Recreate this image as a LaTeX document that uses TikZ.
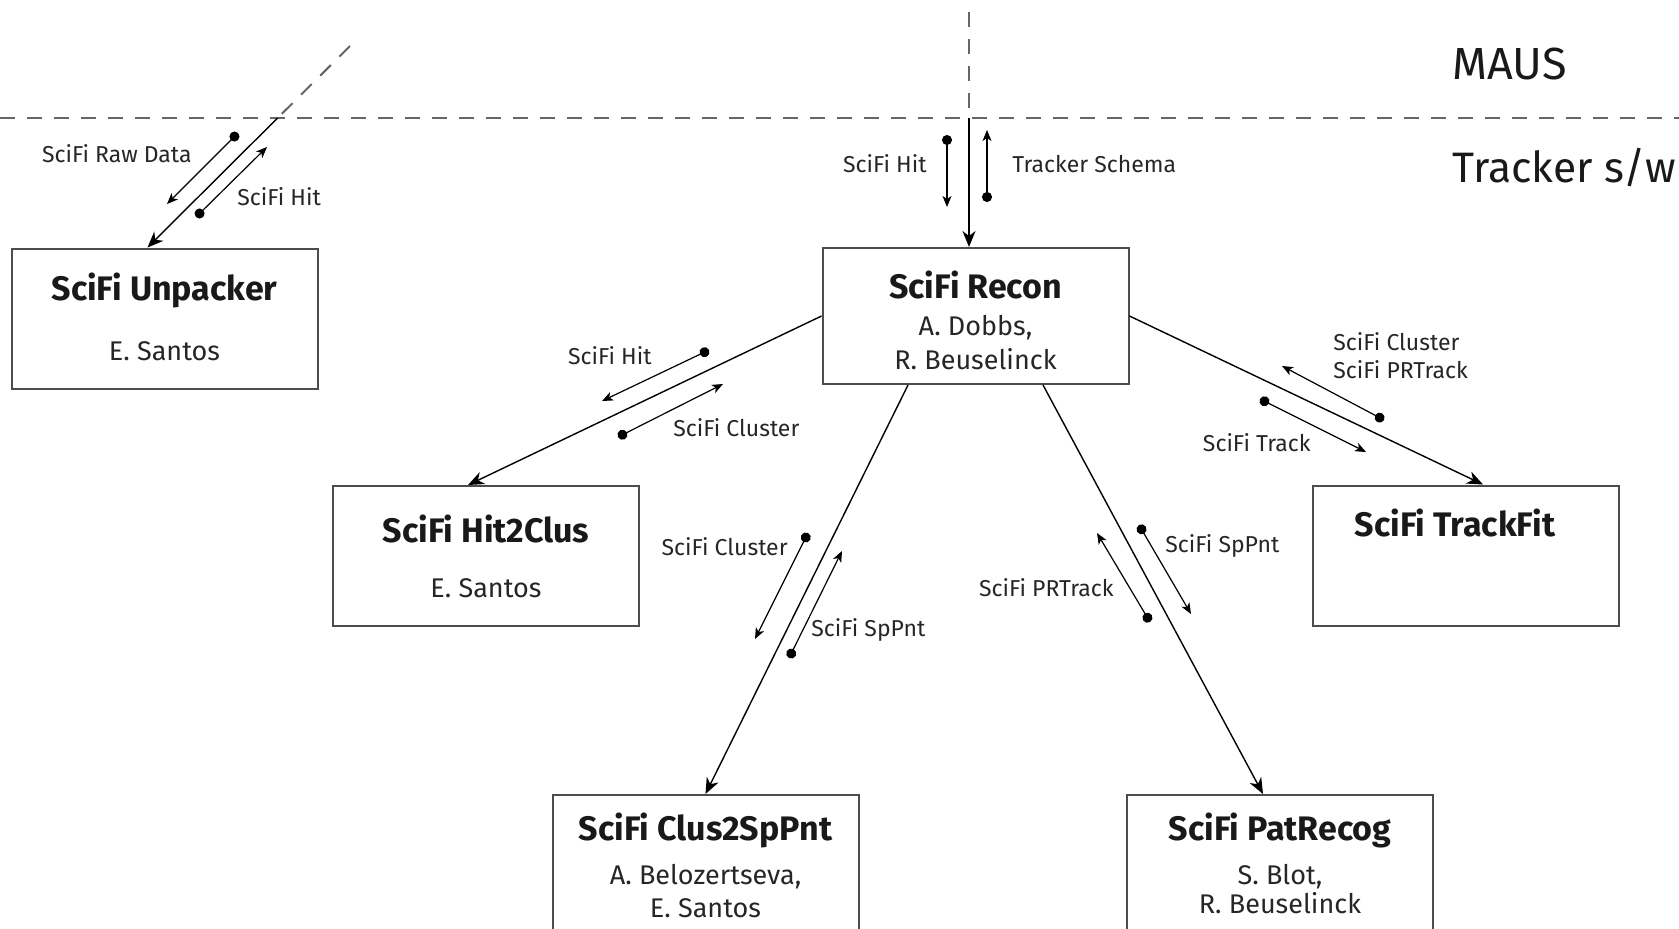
\documentclass[tikz,border=0pt]{standalone}
\usepackage{fontspec}
\setmainfont{Fira Sans}
\usetikzlibrary{arrows.meta}

\tikzset{
  module/.style={draw=black!70, line width=1pt, rectangle, minimum width=153pt, minimum height=70pt, inner sep=0pt},
  modtitle/.style={font=\fontsize{17}{20}\selectfont\bfseries, anchor=base, inner sep=0pt, text=black!90},
  modname/.style={font=\fontsize{13.5}{16}\selectfont, anchor=base, inner sep=0pt, text=black!85},
  lbl/.style={font=\fontsize{11.5}{14}\selectfont, inner sep=0pt, text=black!85},
  layertext/.style={font=\fontsize{22.5}{26}\selectfont, anchor=base west, inner sep=0pt, text=black!90},
  link/.style={line width=0.7pt, -{Stealth[length=8pt,width=6.5pt,inset=2.5pt]}},
  flow/.style={line width=0.6pt, {Circle[length=5pt]}-{Stealth[length=5.5pt,width=4.5pt,inset=1.5pt]}},
  layerline/.style={draw=black!60, line width=1pt, dash pattern=on 7.5pt off 6pt},
}

\begin{document}
\begin{tikzpicture}[x=0.5pt, y=-0.5pt]
\useasboundingbox (0,0) rectangle (1679,928);

% MAUS / tracker boundary
\coordinate (edgeL) at (0,118);
\coordinate (edgeR) at (1679,118);
\draw[layerline] (edgeL) -- (edgeR);
\node (maus) [layertext] at (1452,79) {MAUS};
\node (trksw) [layertext, font=\fontsize{21.3}{25}\selectfont] at (1452,182) {Tracker s/w};

% modules
\node (unp) [module] at (164.5,318.5) {};
\node (unpT) [modtitle] at (164.5,300) {SciFi Unpacker};
\node (unpA) [modname] at (164.5,360) {E. Santos};

\node (rec) [module, minimum height=68pt] at (975.5,316) {};
\node (recT) [modtitle] at (975.5,298) {SciFi Recon};
\node (recA) [modname] at (975.5,335) {A. Dobbs,};
\node (recB) [modname] at (975.5,369) {R. Beuselinck};

\node (h2c) [module] at (486,556) {};
\node (h2cT) [modtitle] at (486,542) {SciFi Hit2Clus};
\node (h2cA) [modname] at (486,597) {E. Santos};

\node (tf) [module] at (1466,555.5) {};
\node (tfT) [modtitle] at (1455,536) {SciFi TrackFit};

\node (c2s) [module] at (705.5,865) {};
\node (c2sT) [modtitle] at (705.5,840) {SciFi Clus2SpPnt};
\node (c2sA) [modname] at (705.5,884) {A. Belozertseva,};
\node (c2sB) [modname] at (705.5,917) {E. Santos};

\node (pr) [module] at (1280,865) {};
\node (prT) [modtitle] at (1280,840) {SciFi PatRecog};
\node (prA) [modname] at (1280,884) {S. Blot,};
\node (prB) [modname] at (1280,913) {R. Beuselinck};

% main connectors
\coordinate (inU) at (350,46);
\coordinate (cutU) at (277.6,118);
\draw[layerline] (inU) -- (cutU);
\draw[link] (cutU) -- ([xshift=-8.5pt]unp.north);

\coordinate (inR) at (969,12);
\coordinate (cutR) at (969,118);
\draw[layerline] (inR) -- (cutR);
\draw[link] (cutR) -- ([xshift=-3.25pt]rec.north);

\draw[link] (rec.west) -- ([xshift=-9pt]h2c.north);
\draw[link] ([xshift=-33.75pt]rec.south) -- (c2s.north);
\draw[link] ([xshift=33.75pt]rec.south) -- ([xshift=-8.5pt]pr.north);
\draw[link] (rec.east) -- ([xshift=8.5pt]tf.north);

% data flows
\coordinate (rawA) at (238,133);
\coordinate (rawB) at (167,204);
\draw[flow] (rawA) -- (rawB);
\node (rawL) [lbl, anchor=base east] at (192,162) {SciFi Raw Data};

\coordinate (uhitA) at (196,217);
\coordinate (uhitB) at (267,147);
\draw[flow] (uhitA) -- (uhitB);
\node (uhitL) [lbl, anchor=base west] at (237,205) {SciFi Hit};

\coordinate (rhitA) at (947,135);
\coordinate (rhitB) at (947,207);
\draw[flow] (rhitA) -- (rhitB);
\node (rhitL) [lbl, anchor=base east] at (927,172) {SciFi Hit};

\coordinate (schA) at (987,202);
\coordinate (schB) at (987,130);
\draw[flow] (schA) -- (schB);
\node (schL) [lbl, anchor=base west] at (1012,172) {Tracker Schema};

\coordinate (hhitA) at (709,350);
\coordinate (hhitB) at (602,401);
\draw[flow] (hhitA) -- (hhitB);
\node (hhitL) [lbl, anchor=base east] at (652,364) {SciFi Hit};

\coordinate (hclA) at (618,437);
\coordinate (hclB) at (723,384);
\draw[flow] (hclA) -- (hclB);
\node (hclL) [lbl, anchor=base west] at (673,436) {SciFi Cluster};

\coordinate (cclA) at (808,533);
\coordinate (cclB) at (755,639);
\draw[flow] (cclA) -- (cclB);
\node (cclL) [lbl, anchor=base east] at (788,555) {SciFi Cluster};

\coordinate (cspA) at (789,658);
\coordinate (cspB) at (842,551);
\draw[flow] (cspA) -- (cspB);
\node (cspL) [lbl, anchor=base west] at (811,636) {SciFi SpPnt};

\coordinate (pspA) at (1139,525);
\coordinate (pspB) at (1191,614);
\draw[flow] (pspA) -- (pspB);
\node (pspL) [lbl, anchor=base west] at (1165,552) {SciFi SpPnt};

\coordinate (pprA) at (1150,622);
\coordinate (pprB) at (1097,533);
\draw[flow] (pprA) -- (pprB);
\node (pprL) [lbl, anchor=base east] at (1114,596) {SciFi PRTrack};

\coordinate (tclA) at (1384,420);
\coordinate (tclB) at (1282,366);
\draw[flow] (tclA) -- (tclB);
\node (tclL) [lbl, anchor=base west] at (1333,350) {SciFi Cluster};
\node (tclM) [lbl, anchor=base west] at (1333,378) {SciFi PRTrack};

\coordinate (ttrA) at (1260,399);
\coordinate (ttrB) at (1366,452);
\draw[flow] (ttrA) -- (ttrB);
\node (ttrL) [lbl, anchor=base east] at (1311,451) {SciFi Track};
\end{tikzpicture}
\end{document}
